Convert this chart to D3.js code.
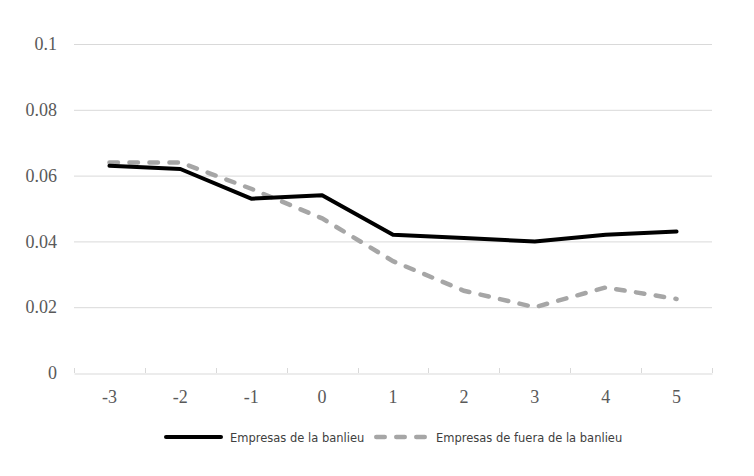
<!DOCTYPE html>
<html>
<head>
<meta charset="utf-8">
<script src="https://cdn.jsdelivr.net/npm/d3@7"></script>
<style>
  body { margin: 0; background: #fff; }
</style>
</head>
<body>
<script>
var svgWidth = 754;
var svgHeight = 476;
var margins = {top: 44, right: 42, bottom: 103, left: 74};

// datos
var periodos = ["-3", "-2", "-1", "0", "1", "2", "3", "4", "5"];
var banlieu = [0.063, 0.062, 0.053, 0.054, 0.042, 0.041, 0.040, 0.042, 0.043];
var fueraBanlieu = [0.064, 0.064, 0.056, 0.047, 0.034, 0.025, 0.020, 0.026, 0.0225];
var yTicks = [0, 0.02, 0.04, 0.06, 0.08, 0.1];
var nombres = ["Empresas de la banlieu", "Empresas de fuera de la banlieu"];

var w = svgWidth - margins.left - margins.right;
var h = svgHeight - margins.top - margins.bottom;

var svg = d3.select("body").append("svg")
  .attr("width", svgWidth)
  .attr("height", svgHeight);

var g = svg.append("g")
  .attr("transform", "translate(" + margins.left + "," + margins.top + ")");

var x = d3.scaleBand().domain(periodos).range([0, w]);
var y = d3.scaleLinear().domain([0, 0.1]).range([h, 0]);

// líneas de cuadrícula
g.append("g")
  .selectAll("line.grid")
  .data(yTicks.filter(function(d) { return d > 0; }))
  .enter()
  .append("line")
  .attr("class", "grid")
  .attr("x1", 0)
  .attr("x2", w)
  .attr("y1", function(d) { return y(d) + 0.5; })
  .attr("y2", function(d) { return y(d) + 0.5; })
  .attr("stroke", "#d9d9d9")
  .attr("stroke-width", 1);

// eje y (solo etiquetas)
var yAxis = g.append("g")
  .call(d3.axisLeft(y).tickValues(yTicks).tickSize(0).tickPadding(17)
    .tickFormat(function(d) { return d === 0 ? "0" : String(+d.toFixed(2)); }));
yAxis.select(".domain").remove();
yAxis.selectAll("text")
  .attr("font-family", "Liberation Serif, serif")
  .attr("font-size", "18px")
  .attr("fill", "#595959");

// eje x
var xAxis = g.append("g")
  .attr("transform", "translate(0," + (h + 0.5) + ")")
  .call(d3.axisBottom(x).tickSize(0).tickPadding(17));
xAxis.select(".domain").attr("stroke", "#d9d9d9");
xAxis.selectAll("text")
  .attr("font-family", "Liberation Serif, serif")
  .attr("font-size", "18px")
  .attr("fill", "#595959");

// marcas entre categorías, hacia arriba
var bordes = periodos.map(function(d) { return x(d); }).concat([w]);
g.append("g")
  .selectAll("line.tick")
  .data(bordes)
  .enter()
  .append("line")
  .attr("x1", function(d) { return Math.round(d) + 0.5; })
  .attr("x2", function(d) { return Math.round(d) + 0.5; })
  .attr("y1", h)
  .attr("y2", h - 5)
  .attr("stroke", "#d9d9d9");

var linea = d3.line()
  .x(function(d, i) { return x(periodos[i]) + x.bandwidth() / 2; })
  .y(function(d) { return y(d); });

g.append("path")
  .datum(fueraBanlieu)
  .attr("d", linea)
  .attr("fill", "none")
  .attr("stroke", "#a6a6a6")
  .attr("stroke-width", 4.5)
  .attr("stroke-linecap", "round")
  .attr("stroke-dasharray", "8.5,11.5");

g.append("path")
  .datum(banlieu)
  .attr("d", linea)
  .attr("fill", "none")
  .attr("stroke", "#000")
  .attr("stroke-width", 4)
  .attr("stroke-linecap", "round")
  .attr("stroke-linejoin", "round");

// leyenda
var leyenda = svg.append("g").attr("transform", "translate(0,437)");
leyenda.append("line")
  .attr("x1", 166).attr("x2", 221).attr("y1", 0).attr("y2", 0)
  .attr("stroke", "#000").attr("stroke-width", 4).attr("stroke-linecap", "round");
leyenda.append("text")
  .attr("x", 230).attr("y", 4.5)
  .attr("font-family", "DejaVu Sans, sans-serif")
  .attr("font-size", "11.5px")
  .attr("fill", "#404040")
  .text(nombres[0]);
leyenda.append("line")
  .attr("x1", 376.25).attr("x2", 425).attr("y1", 0).attr("y2", 0)
  .attr("stroke", "#a6a6a6").attr("stroke-width", 4.5).attr("stroke-linecap", "round")
  .attr("stroke-dasharray", "8.5,11.5");
leyenda.append("text")
  .attr("x", 436).attr("y", 4.5)
  .attr("font-family", "DejaVu Sans, sans-serif")
  .attr("font-size", "11.5px")
  .attr("fill", "#404040")
  .text(nombres[1]);
</script>
</body>
</html>
